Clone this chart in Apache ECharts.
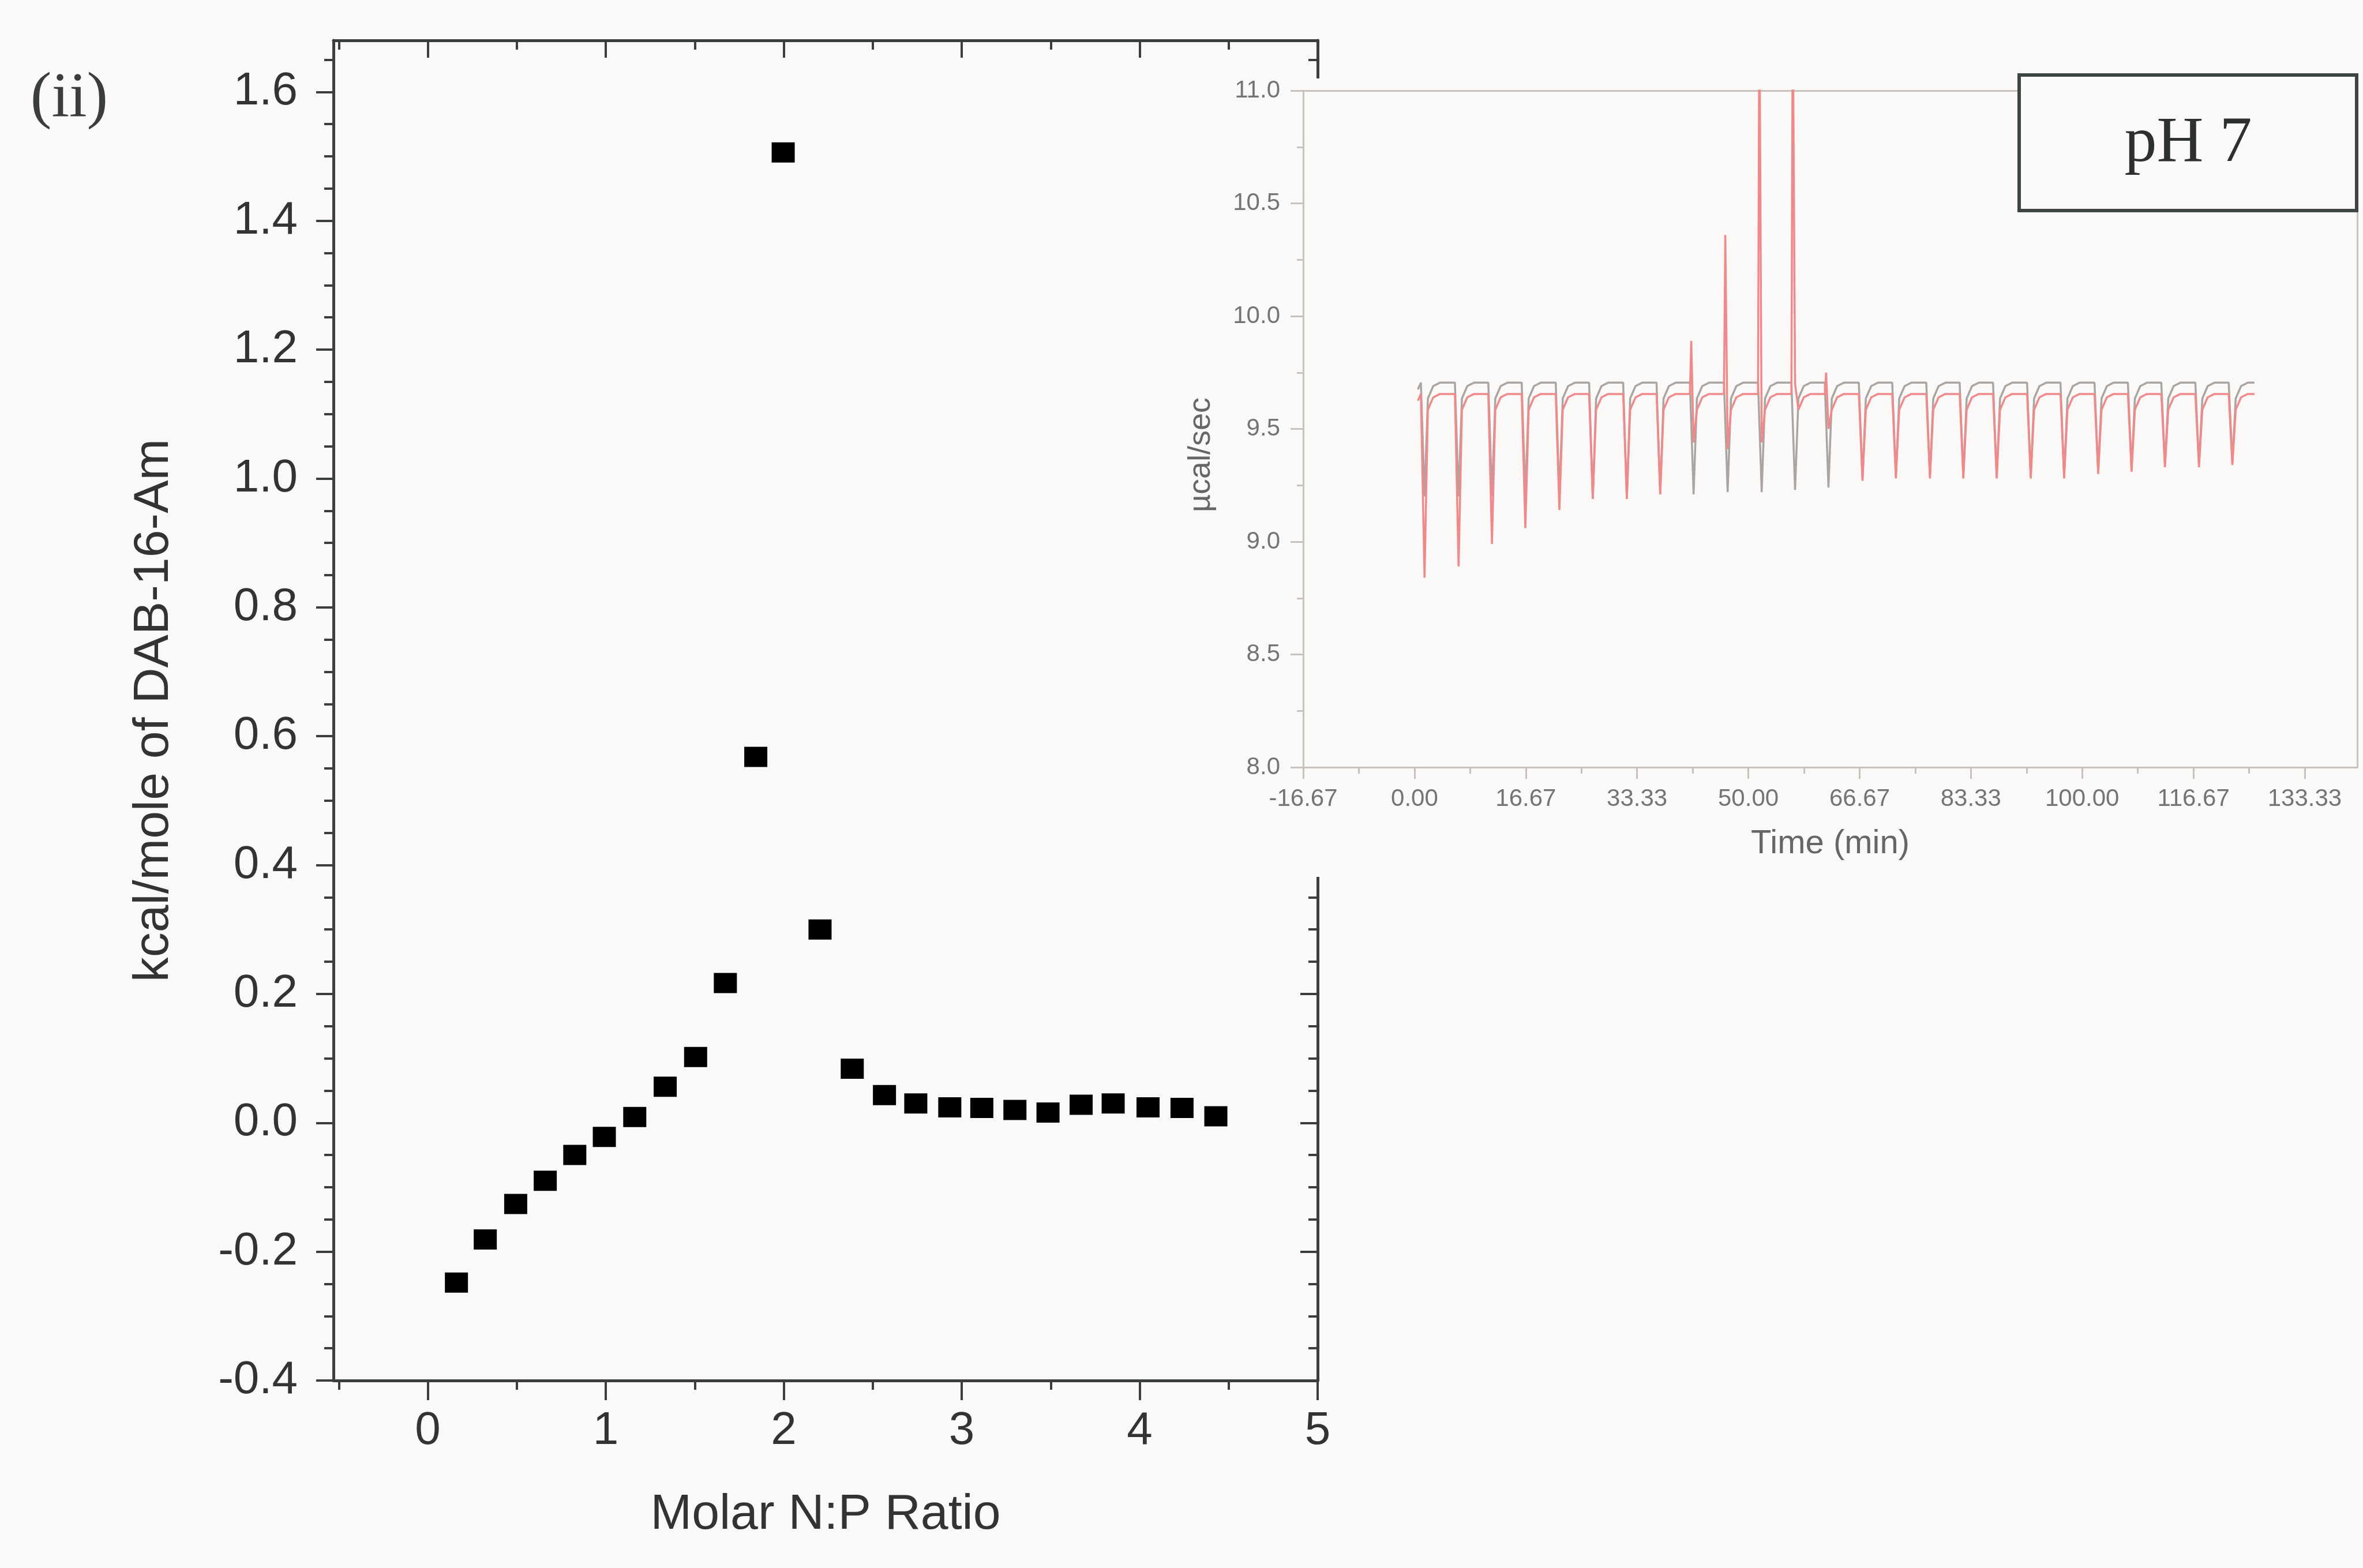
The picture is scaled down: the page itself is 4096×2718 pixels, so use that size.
<!DOCTYPE html>
<html>
<head>
<meta charset="utf-8">
<script src="https://cdn.jsdelivr.net/npm/echarts@6/dist/echarts.min.js"></script>
<style>
html,body{margin:0;padding:0;background:#fbf9f8;}
#chart{width:4096px;height:2718px;}
</style>
</head>
<body>
<div id="chart"></div>
<script>
// ---------------- main panel data: heat per mole vs molar N:P ratio ----------------
const npRatio = [0.161, 0.323, 0.494, 0.660, 0.826, 0.992, 1.163, 1.334, 1.505, 1.672,
                 1.843, 1.997, 2.204, 2.385, 2.566, 2.742, 2.933, 3.113, 3.299, 3.485,
                 3.671, 3.851, 4.047, 4.238, 4.428];
const kcalPerMole = [-0.248, -0.181, -0.126, -0.090, -0.050, -0.022, 0.009, 0.056, 0.102, 0.217,
                     0.568, 1.506, 0.300, 0.084, 0.043, 0.030, 0.024, 0.023, 0.020, 0.016,
                     0.028, 0.030, 0.024, 0.023, 0.010];
const mainXTicks = [0, 1, 2, 3, 4, 5];
const mainXMinorTicks = [-0.5, 0.5, 1.5, 2.5, 3.5, 4.5];
const mainYTicks = [-0.4, -0.2, 0.0, 0.2, 0.4, 0.6, 0.8, 1.0, 1.2, 1.4, 1.6];

// ---------------- inset: raw thermogram (µcal/sec vs time) ----------------
const insetXTicks = [-16.67, 0, 16.67, 33.33, 50, 66.67, 83.33, 100, 116.67, 133.33];
const insetXMinorTicks = [-8.33, 8.33, 25, 41.67, 58.33, 75, 91.67, 108.33, 125, 141.67];
const insetYTicks = [8.0, 8.5, 9.0, 9.5, 10.0, 10.5, 11.0];
const insetYMinorTicks = [8.25, 8.75, 9.25, 9.75, 10.25, 10.75];
const injectionTime = [1.3, 6.4, 11.4, 16.4, 21.5, 26.5, 31.6, 36.6, 41.6, 46.7,
                       51.8, 56.8, 61.8, 66.9, 71.9, 77.0, 82.0, 87.0, 92.1, 97.1,
                       102.2, 107.2, 112.2, 117.3, 122.3];
const redDip  = [8.84, 8.89, 8.99, 9.06, 9.14, 9.19, 9.19, 9.21, 9.44, 9.41,
                 9.44, 9.70, 9.50, 9.27, 9.28, 9.28, 9.28, 9.28, 9.28, 9.28,
                 9.30, 9.31, 9.33, 9.33, 9.34];
const redPeak = [null, null, null, null, null, null, null, null, 9.89, 10.36,
                 11.40, 11.40, 9.75, null, null, null, null, null, null, null,
                 null, null, null, null, null];
const greyDip = [9.20, 9.20, 9.20, 9.20, 9.20, 9.19, 9.19, 9.21, 9.21, 9.22,
                 9.22, 9.23, 9.24, 9.28, 9.29, 9.29, 9.29, 9.29, 9.29, 9.29,
                 9.31, 9.32, 9.34, 9.34, 9.35];
const redBaseline = 9.655;
const greyBaseline = 9.705;
const traceStart = 0.5;
const traceEnd = 125.8;

// ---------------- build series data from the arrays ----------------
const scatterData = npRatio.map((x, i) => [x, kcalPerMole[i]]);

function buildTrace(base, dips, peaks) {
  const pts = [[traceStart, base - 0.03]];
  injectionTime.forEach((t, k) => {
    pts.push([t - 0.35, base]);
    if (peaks && peaks[k] !== null) pts.push([t - 0.15, peaks[k]]);
    pts.push([t + 0.2, dips[k]]);
    pts.push([t + 0.7, base - 0.07]);
    pts.push([t + 1.5, base - 0.015]);
    pts.push([t + 2.5, base]);
  });
  pts.push([traceEnd, base]);
  return pts;
}
const greyTrace = buildTrace(greyBaseline, greyDip, null);
const redTrace = buildTrace(redBaseline, redDip, redPeak);

function stepValues(from, to, step) {
  const out = [];
  for (let v = from; v <= to + 1e-9; v += step) out.push(Math.round(v * 1000) / 1000);
  return out;
}
const mainYMinorTicks = stepValues(-0.4, 1.68, 0.05);

// ---------------- styling ----------------
const BG = '#fbf9f8';
const AX = '#3b3f3c';
const SANS = 'Liberation Sans';
const INSET_AX = '#c6c2c0';
const INSET_TXT = '#767473';

const MAIN_RECT = {left: 578, top: 70, width: 1706, height: 2323};
const INSET_RECT = {left: 2259, top: 157, width: 1827, height: 1173};
const HIDDEN_LINE = {show: false, onZero: false};

function mainAxisBase(extra) {
  return Object.assign({
    type: 'value', z: 1,
    axisLine: {show: true, onZero: false, lineStyle: {color: AX, width: 5}},
    splitLine: {show: false},
    axisLabel: {show: false}
  }, extra);
}

const option = {
  backgroundColor: BG,
  animation: false,
  grid: [
    Object.assign({outerBoundsMode: 'none', containLabel: false}, MAIN_RECT),
    Object.assign({outerBoundsMode: 'none', containLabel: false}, MAIN_RECT),
    Object.assign({outerBoundsMode: 'none', containLabel: false}, INSET_RECT),
    Object.assign({outerBoundsMode: 'none', containLabel: false}, INSET_RECT)
  ],
  xAxis: [
    mainAxisBase({
      gridIndex: 0, position: 'bottom', min: -0.53, max: 5,
      axisTick: {show: true, customValues: mainXTicks, length: 34, lineStyle: {color: AX, width: 4}},
      axisLabel: {show: true, customValues: mainXTicks, margin: 48, fontSize: 80, fontFamily: SANS, color: '#333',
                  formatter: v => String(v)},
      name: 'Molar N:P Ratio', nameLocation: 'middle', nameGap: 190,
      nameTextStyle: {fontSize: 86, fontFamily: SANS, color: '#333'}
    }),
    mainAxisBase({
      gridIndex: 0, position: 'top', min: -0.53, max: 5,
      axisTick: {show: true, inside: true, customValues: mainXTicks, length: 30, lineStyle: {color: AX, width: 4}}
    }),
    mainAxisBase({
      gridIndex: 1, position: 'bottom', min: -0.53, max: 5,
      axisLine: HIDDEN_LINE,
      axisTick: {show: true, customValues: mainXMinorTicks, length: 16, lineStyle: {color: AX, width: 4}}
    }),
    mainAxisBase({
      gridIndex: 1, position: 'top', min: -0.53, max: 5,
      axisLine: HIDDEN_LINE,
      axisTick: {show: true, inside: true, customValues: mainXMinorTicks, length: 16, lineStyle: {color: AX, width: 4}}
    }),
    {
      type: 'value', gridIndex: 2, position: 'bottom', min: -16.67, max: 141.2, z: 4,
      axisLine: {show: true, onZero: false, lineStyle: {color: INSET_AX, width: 3}},
      axisTick: {show: true, customValues: insetXTicks, length: 20, lineStyle: {color: INSET_AX, width: 3}},
      axisLabel: {show: true, customValues: insetXTicks, margin: 34, fontSize: 42, fontFamily: SANS, color: INSET_TXT,
                  formatter: v => v.toFixed(2)},
      splitLine: {show: false},
      name: 'Time (min)', nameLocation: 'middle', nameGap: 104,
      nameTextStyle: {fontSize: 58, fontFamily: SANS, color: '#666'}
    },
    {
      type: 'value', gridIndex: 2, position: 'top', min: -16.67, max: 141.2, z: 4,
      axisLine: {show: true, onZero: false, lineStyle: {color: INSET_AX, width: 3}},
      axisTick: {show: false}, axisLabel: {show: false}, splitLine: {show: false}
    },
    {
      type: 'value', gridIndex: 3, position: 'bottom', min: -16.67, max: 141.2, z: 4,
      axisLine: HIDDEN_LINE,
      axisTick: {show: true, customValues: insetXMinorTicks, length: 11, lineStyle: {color: INSET_AX, width: 3}},
      axisLabel: {show: false}, splitLine: {show: false}
    }
  ],
  yAxis: [
    mainAxisBase({
      gridIndex: 0, position: 'left', min: -0.4, max: 1.68,
      axisTick: {show: true, customValues: mainYTicks, length: 30, lineStyle: {color: AX, width: 4}},
      axisLabel: {show: true, customValues: mainYTicks, margin: 62, fontSize: 80, fontFamily: SANS, color: '#333',
                  formatter: v => v.toFixed(1)},
      name: 'kcal/mole of DAB-16-Am', nameLocation: 'middle', nameGap: 268,
      nameTextStyle: {fontSize: 86, fontFamily: SANS, color: '#333'}
    }),
    mainAxisBase({
      gridIndex: 0, position: 'right', min: -0.4, max: 1.68,
      axisTick: {show: true, inside: true, customValues: mainYTicks, length: 30, lineStyle: {color: AX, width: 4}}
    }),
    mainAxisBase({
      gridIndex: 1, position: 'left', min: -0.4, max: 1.68,
      axisLine: HIDDEN_LINE,
      axisTick: {show: true, customValues: mainYMinorTicks, length: 16, lineStyle: {color: AX, width: 4}}
    }),
    mainAxisBase({
      gridIndex: 1, position: 'right', min: -0.4, max: 1.68,
      axisLine: HIDDEN_LINE,
      axisTick: {show: true, inside: true, customValues: mainYMinorTicks, length: 16, lineStyle: {color: AX, width: 4}}
    }),
    {
      type: 'value', gridIndex: 2, position: 'left', min: 8, max: 11, z: 4,
      axisLine: {show: true, onZero: false, lineStyle: {color: INSET_AX, width: 3}},
      axisTick: {show: true, customValues: insetYTicks, length: 22, lineStyle: {color: INSET_AX, width: 3}},
      axisLabel: {show: true, customValues: insetYTicks, margin: 40, fontSize: 42, fontFamily: SANS, color: INSET_TXT,
                  formatter: v => v.toFixed(1)},
      splitLine: {show: false},
      name: 'µcal/sec', nameLocation: 'middle', nameGap: 150,
      nameTextStyle: {fontSize: 54, fontFamily: SANS, color: '#666', padding: [0, 90, 0, 0]}
    },
    {
      type: 'value', gridIndex: 2, position: 'right', min: 8, max: 11, z: 4,
      axisLine: {show: true, onZero: false, lineStyle: {color: INSET_AX, width: 3}},
      axisTick: {show: false}, axisLabel: {show: false}, splitLine: {show: false}
    },
    {
      type: 'value', gridIndex: 3, position: 'left', min: 8, max: 11, z: 4,
      axisLine: HIDDEN_LINE,
      axisTick: {show: true, customValues: insetYMinorTicks, length: 11, lineStyle: {color: INSET_AX, width: 3}},
      axisLabel: {show: false}, splitLine: {show: false}
    }
  ],
  graphic: [
    {type: 'rect', z: 3, silent: true,
     shape: {x: 2030, y: 136, width: 2066, height: 1384},
     style: {fill: BG}},
    {type: 'rect', z: 20, silent: true,
     shape: {x: 3500, y: 130, width: 585, height: 235},
     style: {fill: BG, stroke: '#3f4540', lineWidth: 6}},
    {type: 'text', z: 21, silent: true, x: 3793, y: 250,
     style: {text: 'pH 7', font: '112px "Liberation Serif"', fill: '#2c312d',
             textAlign: 'center', textVerticalAlign: 'middle'}},
    {type: 'text', z: 21, silent: true, x: 120, y: 172,
     style: {text: '(ii)', font: '110px "Liberation Serif"', fill: '#3a3e3b',
             textAlign: 'center', textVerticalAlign: 'middle'}}
  ],
  series: [
    {
      type: 'scatter', xAxisIndex: 0, yAxisIndex: 0, z: 2,
      data: scatterData, symbol: 'rect', symbolSize: [40, 35],
      itemStyle: {color: '#000000', opacity: 1}, silent: true
    },
    {
      type: 'line', xAxisIndex: 4, yAxisIndex: 4, z: 5,
      data: greyTrace, showSymbol: false, symbol: 'none', clip: true, smooth: false,
      lineStyle: {color: '#a8a5a3', width: 3.5}, silent: true
    },
    {
      type: 'line', xAxisIndex: 4, yAxisIndex: 4, z: 6,
      data: redTrace, showSymbol: false, symbol: 'none', clip: true, smooth: false,
      lineStyle: {color: '#f08a8a', width: 3.5}, silent: true
    }
  ]
};

const chart = echarts.init(document.getElementById('chart'), null, {renderer: 'canvas', width: 4096, height: 2718});
chart.setOption(option);
</script>
</body>
</html>
